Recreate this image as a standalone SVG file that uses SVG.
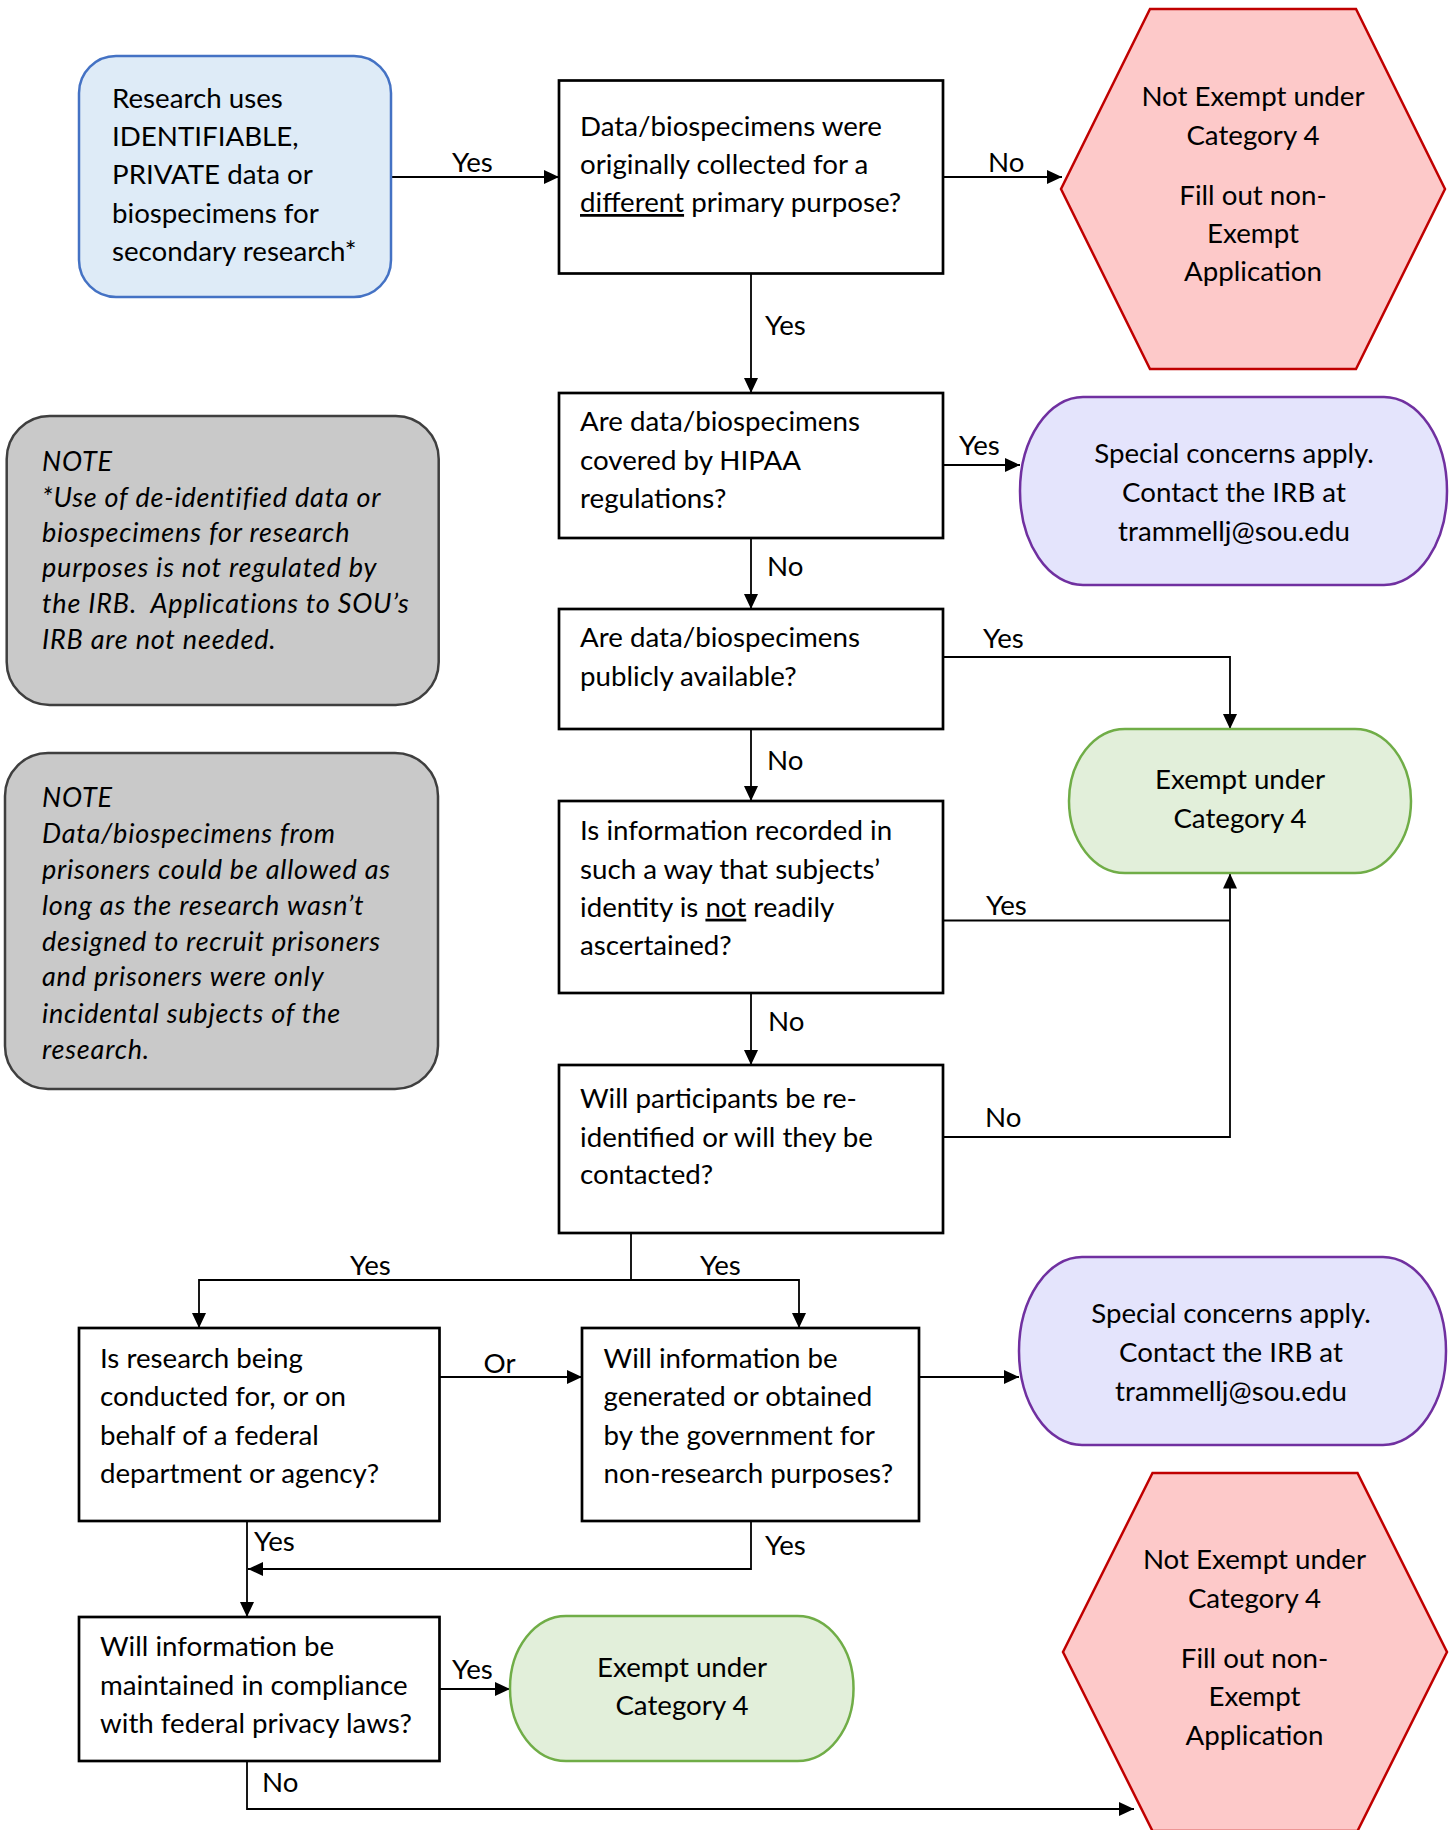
<svg xmlns="http://www.w3.org/2000/svg" width="1453" height="1830" viewBox="0 0 1453 1830">
<style>
text{font-family:Lato,"Open Sans","Liberation Sans",sans-serif;font-size:27.7px;fill:#000}
.c{text-anchor:middle}
.it{font-style:italic;font-size:27px;letter-spacing:0.8px}
.box{fill:#fff;stroke:#000;stroke-width:2.7}
.blue{fill:#DEEBF7;stroke:#4472C4;stroke-width:2.5}
.note{fill:#C9C9C9;stroke:#3F3F3F;stroke-width:2.5}
.hex{fill:#FDC9C9;stroke:#C00000;stroke-width:2.5}
.purple{fill:#E4E4FC;stroke:#7030A0;stroke-width:2.5}
.green{fill:#E2EFDA;stroke:#70AD47;stroke-width:2.5}
.ln{fill:none;stroke:#000;stroke-width:1.8}
.ar{marker-end:url(#ah)}
.u{text-decoration:underline}
</style>
<defs>
<marker id="ah" markerUnits="userSpaceOnUse" markerWidth="15" markerHeight="14" viewBox="0 0 15 14" refX="15" refY="7" orient="auto">
<path d="M0,0 L15,7 L0,14 z" fill="#000"/>
</marker>
</defs>

<g id="connectors">
<line class="ln ar" x1="391" y1="177" x2="559" y2="177"/>
<line class="ln ar" x1="943" y1="177" x2="1062" y2="177"/>
<line class="ln ar" x1="751" y1="274" x2="751" y2="393"/>
<line class="ln ar" x1="943" y1="465" x2="1020" y2="465"/>
<line class="ln ar" x1="751" y1="538" x2="751" y2="609"/>
<polyline class="ln ar" points="943,657 1230,657 1230,729"/>
<line class="ln ar" x1="751" y1="729" x2="751" y2="801"/>
<line class="ln" x1="943" y1="920.5" x2="1230" y2="920.5"/>
<polyline class="ln ar" points="943,1137 1230,1137 1230,873.5"/>
<line class="ln ar" x1="751" y1="993" x2="751" y2="1065"/>
<line class="ln" x1="631" y1="1233" x2="631" y2="1280"/>
<polyline class="ln ar" points="631,1280 199,1280 199,1328"/>
<polyline class="ln ar" points="631,1280 799,1280 799,1328"/>
<line class="ln ar" x1="439.5" y1="1377" x2="582" y2="1377"/>
<line class="ln ar" x1="919" y1="1377" x2="1019" y2="1377"/>
<line class="ln ar" x1="247" y1="1521" x2="247" y2="1617"/>
<polyline class="ln ar" points="751,1521 751,1569 248,1569"/>
<line class="ln ar" x1="439.5" y1="1689" x2="510" y2="1689"/>
<polyline class="ln ar" points="247,1761 247,1809 1134,1809"/>
<text x="452" y="172">Yes</text>
<text x="988" y="172">No</text>
<text x="765" y="335">Yes</text>
<text x="959" y="455">Yes</text>
<text x="767" y="576">No</text>
<text x="983" y="648">Yes</text>
<text x="767" y="769.5">No</text>
<text x="986" y="915">Yes</text>
<text x="768" y="1031">No</text>
<text x="985" y="1127">No</text>
<text x="350" y="1275">Yes</text>
<text x="700" y="1275">Yes</text>
<text x="483.5" y="1373">Or</text>
<text x="254" y="1551">Yes</text>
<text x="765" y="1555">Yes</text>
<text x="452" y="1679">Yes</text>
<text x="262" y="1792">No</text>
</g>

<g id="start">
<rect class="blue" x="79" y="56" width="312" height="241" rx="37" ry="37"/>
<text x="112" y="108">Research uses</text>
<text x="112" y="146">IDENTIFIABLE,</text>
<text x="112" y="184">PRIVATE data or</text>
<text x="112" y="223">biospecimens for</text>
<text x="112" y="261">secondary research*</text>
</g>

<g id="q1">
<rect class="box" x="559" y="80.5" width="384" height="193"/>
<text x="580" y="136">Data/biospecimens were</text>
<text x="580" y="174">originally collected for a</text>
<text x="580" y="212"><tspan class="u">different</tspan> primary purpose?</text>
</g>

<g id="notexempt1">
<polygon class="hex" points="1150,9 1356,9 1445,189 1356,369 1150,369 1061,189"/>
<text class="c" x="1253" y="106">Not Exempt under</text>
<text class="c" x="1253" y="145">Category 4</text>
<text class="c" x="1253" y="205">Fill out non-</text>
<text class="c" x="1253" y="243">Exempt</text>
<text class="c" x="1253" y="281">Application</text>
</g>

<g id="q2">
<rect class="box" x="559" y="393" width="384" height="145"/>
<text x="580" y="431">Are data/biospecimens</text>
<text x="580" y="470">covered by HIPAA</text>
<text x="580" y="508">regulations?</text>
</g>

<g id="special1">
<rect class="purple" x="1020" y="397" width="427" height="188" rx="63" ry="94"/>
<text class="c" x="1234" y="463">Special concerns apply.</text>
<text class="c" x="1234" y="502">Contact the IRB at</text>
<text class="c" x="1234" y="541">trammellj@sou.edu</text>
</g>

<g id="q3">
<rect class="box" x="559" y="609" width="384" height="120"/>
<text x="580" y="647">Are data/biospecimens</text>
<text x="580" y="686">publicly available?</text>
</g>

<g id="exempt1">
<rect class="green" x="1069" y="729" width="342" height="144" rx="56" ry="72"/>
<text class="c" x="1240" y="789">Exempt under</text>
<text class="c" x="1240" y="828">Category 4</text>
</g>

<g id="q4">
<rect class="box" x="559" y="801" width="384" height="192"/>
<text x="580" y="840">Is information recorded in</text>
<text x="580" y="878.7">such a way that subjects’</text>
<text x="580" y="916.7">identity is <tspan class="u">not</tspan> readily</text>
<text x="580" y="955">ascertained?</text>
</g>

<g id="q5">
<rect class="box" x="559" y="1065" width="384" height="168"/>
<text x="580" y="1108">Will participants be re-</text>
<text x="580" y="1147">identified or will they be</text>
<text x="580" y="1184">contacted?</text>
</g>

<g id="note1">
<rect class="note" x="6.7" y="416" width="432" height="289" rx="43" ry="43"/>
<text class="it" x="42" y="470.7">NOTE</text>
<text class="it" x="42" y="506.7">*Use of de-identified data or</text>
<text class="it" x="42" y="541.7">biospecimens for research</text>
<text class="it" x="42" y="576.7">purposes is not regulated by</text>
<text class="it" x="42" y="612.7" xml:space="preserve">the IRB.  Applications to SOU’s</text>
<text class="it" x="42" y="649.3">IRB are not needed.</text>
</g>

<g id="note2">
<rect class="note" x="5" y="753" width="433" height="336" rx="43" ry="43"/>
<text class="it" x="42" y="806.5">NOTE</text>
<text class="it" x="42" y="843">Data/biospecimens from</text>
<text class="it" x="42" y="878.5">prisoners could be allowed as</text>
<text class="it" x="42" y="914.7">long as the research wasn’t</text>
<text class="it" x="42" y="950.5">designed to recruit prisoners</text>
<text class="it" x="42" y="986">and prisoners were only</text>
<text class="it" x="42" y="1022.5">incidental subjects of the</text>
<text class="it" x="42" y="1058.6">research.</text>
</g>

<g id="q6">
<rect class="box" x="79" y="1328" width="360.5" height="193"/>
<text x="100" y="1368">Is research being</text>
<text x="100" y="1406">conducted for, or on</text>
<text x="100" y="1445">behalf of a federal</text>
<text x="100" y="1483">department or agency?</text>
</g>

<g id="q7">
<rect class="box" x="582" y="1328" width="337" height="193"/>
<text x="603.6" y="1368">Will information be</text>
<text x="603.6" y="1406">generated or obtained</text>
<text x="603.6" y="1445">by the government for</text>
<text x="603.6" y="1483">non-research purposes?</text>
</g>

<g id="special2">
<rect class="purple" x="1019" y="1257" width="427" height="188" rx="63" ry="94"/>
<text class="c" x="1231" y="1323">Special concerns apply.</text>
<text class="c" x="1231" y="1362">Contact the IRB at</text>
<text class="c" x="1231" y="1401">trammellj@sou.edu</text>
</g>

<g id="q8">
<rect class="box" x="79" y="1617" width="360.5" height="144"/>
<text x="100" y="1656">Will information be</text>
<text x="100" y="1694.7">maintained in compliance</text>
<text x="100" y="1733">with federal privacy laws?</text>
</g>

<g id="exempt2">
<rect class="green" x="510" y="1616" width="343.5" height="145" rx="56" ry="72"/>
<text class="c" x="682" y="1677">Exempt under</text>
<text class="c" x="682" y="1715">Category 4</text>
</g>

<g id="notexempt2">
<polygon class="hex" points="1152.5,1473 1357.5,1473 1447,1652 1357.5,1831 1152.5,1831 1063,1652"/>
<text class="c" x="1254.5" y="1569">Not Exempt under</text>
<text class="c" x="1254.5" y="1608">Category 4</text>
<text class="c" x="1254.5" y="1668">Fill out non-</text>
<text class="c" x="1254.5" y="1706">Exempt</text>
<text class="c" x="1254.5" y="1745">Application</text>
</g>
</svg>
